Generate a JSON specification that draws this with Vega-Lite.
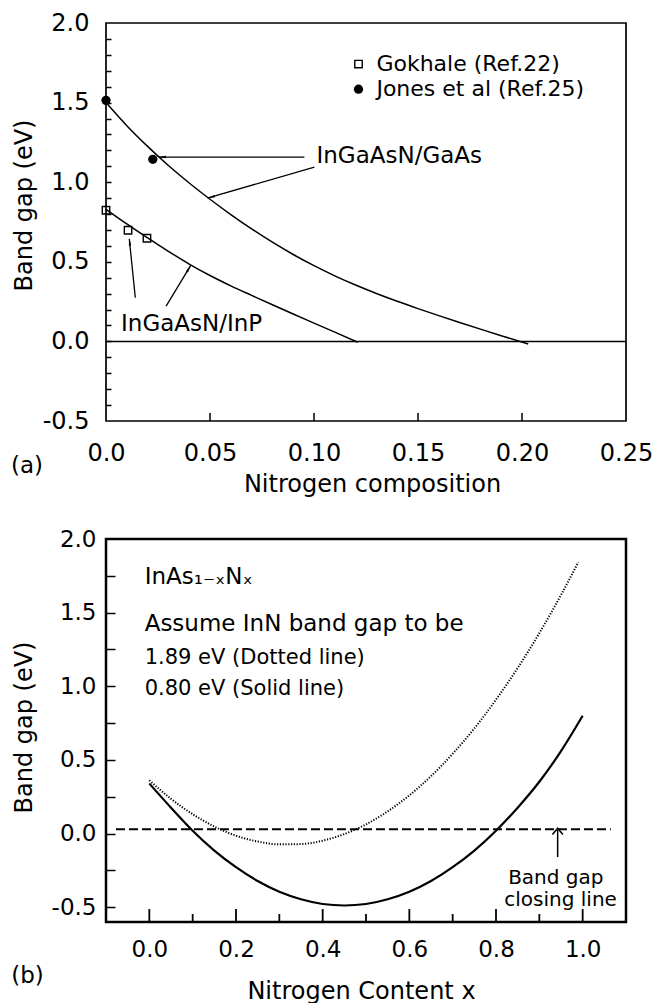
{
  "$schema": "https://vega.github.io/schema/vega-lite/v6.json",
  "background": "white",
  "padding": {"left": 10, "top": 10, "right": 0, "bottom": 0},
  "spacing": 118,
  "bounds": "flush",
  "config": {
    "font": "DejaVu Sans",
    "view": {"stroke": "black", "strokeWidth": 2},
    "axis": {"domain": false, "grid": false, "zindex": 1, "tickColor": "black", "tickWidth": 1.5, "labelColor": "black", "titleColor": "black", "labelFont": "DejaVu Sans", "titleFont": "DejaVu Sans", "titleFontWeight": "normal", "labelFlush": false, "labelOverlap": false}
  },
  "datasets": {
    "gaas": [{"x":0,"y":1.50},{"x":0.01,"y":1.355},{"x":0.02,"y":1.225},{"x":0.03,"y":1.105},{"x":0.04,"y":0.995},{"x":0.05,"y":0.893},{"x":0.06,"y":0.797},{"x":0.07,"y":0.707},{"x":0.08,"y":0.623},{"x":0.09,"y":0.546},{"x":0.10,"y":0.476},{"x":0.11,"y":0.412},{"x":0.12,"y":0.354},{"x":0.13,"y":0.301},{"x":0.14,"y":0.252},{"x":0.15,"y":0.206},{"x":0.16,"y":0.162},{"x":0.17,"y":0.119},{"x":0.18,"y":0.077},{"x":0.19,"y":0.036},{"x":0.203,"y":-0.016}],
    "inp": [{"x":0,"y":0.83},{"x":0.01,"y":0.738},{"x":0.02,"y":0.65},{"x":0.03,"y":0.566},{"x":0.04,"y":0.486},{"x":0.05,"y":0.414},{"x":0.06,"y":0.349},{"x":0.07,"y":0.289},{"x":0.08,"y":0.23},{"x":0.09,"y":0.172},{"x":0.10,"y":0.115},{"x":0.11,"y":0.058},{"x":0.121,"y":-0.005}],
    "gokhale": [{"x":0,"y":0.824},{"x":0.0106,"y":0.698},{"x":0.0197,"y":0.648}],
    "jones": [{"x":0,"y":1.514},{"x":0.0225,"y":1.144}],
    "arrows_a": [{"x":0.0954,"y":1.158,"x2":0.0255,"y2":1.158},{"x":0.1002,"y":1.095,"x2":0.0491,"y2":0.901},{"x":0.0141,"y":0.274,"x2":0.0112,"y2":0.643},{"x":0.0289,"y":0.222,"x2":0.0406,"y2":0.474}],
    "heads_a": [{"x":0.0275,"y":1.158,"angle":270},{"x":0.0510,"y":0.908,"angle":253.7},{"x":0.01142,"y":0.618,"angle":354.2},{"x":0.0396,"y":0.452,"angle":31.3}],
    "labels_a": [{"x":0.1012,"y":1.121,"text":"InGaAsN/GaAs"},{"x":0.00723,"y":0.065,"text":"InGaAsN/InP"}],
    "legend_text_a": [{"x":0.130,"y":1.698,"text":"Gokhale (Ref.22)"},{"x":0.130,"y":1.541,"text":"Jones et al (Ref.25)"}],
    "legend_sq": [{"x":0.1214,"y":1.742}],
    "legend_ci": [{"x":0.1214,"y":1.584}],
    "tag_a": [{"x":-0.038,"y":-0.783,"text":"(a)"}],
    "xticks_a": [{"x":0.05},{"x":0.1},{"x":0.15},{"x":0.2}],
    "solid": [{"x":0,"y":0.34},{"x":0.05,"y":0.176},{"x":0.1,"y":0.02},{"x":0.15,"y":-0.115},{"x":0.2,"y":-0.228},{"x":0.25,"y":-0.322},{"x":0.3,"y":-0.395},{"x":0.35,"y":-0.446},{"x":0.4,"y":-0.478},{"x":0.45,"y":-0.488},{"x":0.5,"y":-0.478},{"x":0.55,"y":-0.446},{"x":0.6,"y":-0.395},{"x":0.65,"y":-0.322},{"x":0.7,"y":-0.228},{"x":0.75,"y":-0.115},{"x":0.8,"y":0.02},{"x":0.85,"y":0.176},{"x":0.9,"y":0.352},{"x":0.95,"y":0.56},{"x":1.0,"y":0.80}],
    "dotted": [{"x":0,"y":0.362},{"x":0.05,"y":0.236},{"x":0.1,"y":0.132},{"x":0.15,"y":0.048},{"x":0.2,"y":-0.014},{"x":0.25,"y":-0.054},{"x":0.3,"y":-0.073},{"x":0.35,"y":-0.071},{"x":0.4,"y":-0.048},{"x":0.45,"y":-0.003},{"x":0.5,"y":0.063},{"x":0.55,"y":0.151},{"x":0.6,"y":0.26},{"x":0.65,"y":0.39},{"x":0.7,"y":0.542},{"x":0.75,"y":0.714},{"x":0.8,"y":0.909},{"x":0.85,"y":1.124},{"x":0.9,"y":1.361},{"x":0.95,"y":1.62},{"x":0.99,"y":1.842}],
    "closing": [{"x":-0.077,"y":0.03},{"x":1.065,"y":0.03}],
    "labels_b_big": [{"x":-0.0108,"y":1.695,"text":"InAs₁₋ₓNₓ"},{"x":-0.0108,"y":1.377,"text":"Assume InN band gap to be"}],
    "labels_b_small": [{"x":-0.0108,"y":1.153,"text":"1.89 eV (Dotted line)"},{"x":-0.0108,"y":0.943,"text":"0.80 eV (Solid  line)"}],
    "closing_text": [{"x":0.938,"y":-0.298,"text":"Band gap"},{"x":0.949,"y":-0.452,"text":"closing line"}],
    "arrow_b": [{"x":0.9423,"y":-0.159,"x2":0.9423,"y2":0.025}],
    "head_b": [{"x":0.9423,"y":0.015}],
    "tag_b": [{"x":-0.281,"y":-0.967,"text":"(b)"}],
    "xticks_b_major": [{"x":0},{"x":0.2},{"x":0.4},{"x":0.6},{"x":0.8},{"x":1.0}],
    "xticks_b_minor": [{"x":0.1},{"x":0.3},{"x":0.5},{"x":0.7},{"x":0.9}]
  },
  "vconcat": [
    {
      "width": 520,
      "height": 398,
      "view": {"stroke": "black", "strokeWidth": 1.7},
      "resolve": {"axis": {"x": "independent", "y": "independent"}},
      "layer": [
        {
          "data": {"name": "gaas"},
          "mark": {"type": "line", "color": "black", "strokeWidth": 1.5, "interpolate": "monotone"},
          "encoding": {
            "x": {"field": "x", "type": "quantitative", "scale": {"domain": [0, 0.25], "nice": false, "zero": false},
              "axis": {"orient": "bottom", "title": "Nitrogen composition", "values": [0, 0.05, 0.1, 0.15, 0.2, 0.25], "labelExpr": "datum.value == 0 ? '0.0' : format(datum.value, '.2f')", "ticks": false, "tickSize": 0, "labelPadding": 20, "labelOverlap": false, "labelFontSize": 24, "titleFontSize": 24, "titleX": 266, "titleY": 70, "titleBaseline": "alphabetic", "titleAlign": "center"}},
            "y": {"field": "y", "type": "quantitative", "scale": {"domain": [-0.5, 2.0], "nice": false, "zero": false},
              "axis": {"orient": "left", "title": "Band gap (eV)", "values": [-0.5, 0, 0.5, 1.0, 1.5, 2.0], "labelExpr": "(datum.value < 0 ? '-' : '') + format(abs(datum.value), '.1f')", "ticks": false, "tickSize": 0, "labelPadding": 17, "labelOverlap": false, "labelFontSize": 24, "titleFontSize": 24, "titleX": -82, "titleY": 182, "titleBaseline": "middle", "titleAlign": "center"}}
          }
        },
        {
          "data": {"name": "inp"},
          "mark": {"type": "line", "color": "black", "strokeWidth": 1.5, "interpolate": "monotone"},
          "encoding": {
            "x": {"field": "x", "type": "quantitative", "axis": null},
            "y": {"field": "y", "type": "quantitative", "axis": {"orient": "right", "offset": -520, "title": null, "values": [-0.4,-0.3,-0.2,-0.1,0,0.1,0.2,0.3,0.4,0.5,0.6,0.7,0.8,0.9,1.0,1.1,1.2,1.3,1.4,1.5,1.6,1.7,1.8,1.9], "labels": false, "ticks": true, "tickSize": 5}}
          }
        },
        {
          "data": {"name": "xticks_a"},
          "mark": {"type": "rule", "color": "black", "strokeWidth": 1.5},
          "encoding": {"x": {"field": "x", "type": "quantitative", "axis": null}, "y": {"datum": -0.5, "type": "quantitative", "axis": null}, "y2": {"datum": -0.45}}
        },
        {
          "data": {"values": [{"v": 0}]},
          "mark": {"type": "rule", "color": "black", "strokeWidth": 1.5},
          "encoding": {"y": {"field": "v", "type": "quantitative", "axis": null}}
        },
        {
          "data": {"name": "gokhale"},
          "mark": {"type": "point", "shape": "square", "filled": false, "stroke": "black", "strokeWidth": 1.4, "size": 55, "opacity": 1},
          "encoding": {"x": {"field": "x", "type": "quantitative", "axis": null}, "y": {"field": "y", "type": "quantitative", "axis": null}}
        },
        {
          "data": {"name": "legend_sq"},
          "mark": {"type": "point", "shape": "square", "filled": false, "stroke": "black", "strokeWidth": 1.4, "size": 55, "opacity": 1},
          "encoding": {"x": {"field": "x", "type": "quantitative", "axis": null}, "y": {"field": "y", "type": "quantitative", "axis": null}}
        },
        {
          "data": {"name": "jones"},
          "mark": {"type": "point", "shape": "circle", "filled": true, "color": "black", "size": 85, "opacity": 1},
          "encoding": {"x": {"field": "x", "type": "quantitative", "axis": null}, "y": {"field": "y", "type": "quantitative", "axis": null}}
        },
        {
          "data": {"name": "legend_ci"},
          "mark": {"type": "point", "shape": "circle", "filled": true, "color": "black", "size": 85, "opacity": 1},
          "encoding": {"x": {"field": "x", "type": "quantitative", "axis": null}, "y": {"field": "y", "type": "quantitative", "axis": null}}
        },
        {
          "data": {"name": "arrows_a"},
          "mark": {"type": "rule", "color": "black", "strokeWidth": 1.3},
          "encoding": {"x": {"field": "x", "type": "quantitative", "axis": null}, "y": {"field": "y", "type": "quantitative", "axis": null}, "x2": {"field": "x2"}, "y2": {"field": "y2"}}
        },
        {
          "data": {"name": "heads_a"},
          "mark": {"type": "point", "shape": "wedge", "filled": true, "color": "black", "size": 90, "opacity": 1},
          "encoding": {"x": {"field": "x", "type": "quantitative", "axis": null}, "y": {"field": "y", "type": "quantitative", "axis": null}, "angle": {"field": "angle", "type": "quantitative", "scale": null}}
        },
        {
          "data": {"name": "labels_a"},
          "mark": {"type": "text", "align": "left", "baseline": "alphabetic", "fontSize": 23, "font": "DejaVu Sans", "color": "black"},
          "encoding": {"x": {"field": "x", "type": "quantitative", "axis": null}, "y": {"field": "y", "type": "quantitative", "axis": null}, "text": {"field": "text"}}
        },
        {
          "data": {"name": "legend_text_a"},
          "mark": {"type": "text", "align": "left", "baseline": "alphabetic", "fontSize": 22, "font": "DejaVu Sans", "color": "black"},
          "encoding": {"x": {"field": "x", "type": "quantitative", "axis": null}, "y": {"field": "y", "type": "quantitative", "axis": null}, "text": {"field": "text"}}
        },
        {
          "data": {"name": "tag_a"},
          "mark": {"type": "text", "align": "center", "baseline": "middle", "fontSize": 23, "font": "DejaVu Sans", "color": "black"},
          "encoding": {"x": {"field": "x", "type": "quantitative", "axis": null}, "y": {"field": "y", "type": "quantitative", "axis": null}, "text": {"field": "text"}}
        }
      ]
    },
    {
      "width": 520,
      "height": 383,
      "view": {"stroke": "black", "strokeWidth": 2.5},
      "resolve": {"axis": {"x": "independent", "y": "independent"}},
      "layer": [
        {
          "data": {"name": "solid"},
          "mark": {"type": "line", "color": "black", "strokeWidth": 2.2, "interpolate": "monotone"},
          "encoding": {
            "x": {"field": "x", "type": "quantitative", "scale": {"domain": [-0.1, 1.1], "nice": false, "zero": false},
              "axis": {"orient": "bottom", "title": "Nitrogen Content x", "values": [0, 0.2, 0.4, 0.6, 0.8, 1.0], "format": ".1f", "ticks": false, "tickSize": 0, "labelPadding": 16, "labelOverlap": false, "labelFontSize": 23, "titleFontSize": 24, "titleX": 255, "titleY": 76, "titleBaseline": "alphabetic", "titleAlign": "center"}},
            "y": {"field": "y", "type": "quantitative", "scale": {"domain": [-0.6, 2.0], "nice": false, "zero": false},
              "axis": {"orient": "left", "title": "Band gap (eV)", "values": [-0.5, 0, 0.5, 1.0, 1.5, 2.0], "labelExpr": "(datum.value < 0 ? '-' : '') + format(abs(datum.value), '.1f')", "ticks": false, "tickSize": 0, "labelPadding": 10, "labelOverlap": false, "labelFontSize": 23, "titleFontSize": 24, "titleX": -82, "titleY": 188, "titleBaseline": "middle", "titleAlign": "center"}}
          }
        },
        {
          "data": {"name": "dotted"},
          "mark": {"type": "line", "color": "black", "strokeWidth": 2, "strokeDash": [1.2, 1.6], "interpolate": "monotone"},
          "encoding": {
            "x": {"field": "x", "type": "quantitative", "axis": null},
            "y": {"field": "y", "type": "quantitative", "axis": {"orient": "right", "offset": -520, "title": null, "values": [-0.5,-0.25,0,0.25,0.5,0.75,1.0,1.25,1.5,1.75], "labels": false, "ticks": true, "tickSize": 9}}
          }
        },
        {
          "data": {"name": "xticks_b_major"},
          "mark": {"type": "rule", "color": "black", "strokeWidth": 1.8},
          "encoding": {"x": {"field": "x", "type": "quantitative", "axis": null}, "y": {"datum": -0.6, "type": "quantitative", "axis": null}, "y2": {"datum": -0.512}}
        },
        {
          "data": {"name": "xticks_b_minor"},
          "mark": {"type": "rule", "color": "black", "strokeWidth": 1.8},
          "encoding": {"x": {"field": "x", "type": "quantitative", "axis": null}, "y": {"datum": -0.6, "type": "quantitative", "axis": null}, "y2": {"datum": -0.546}}
        },
        {
          "data": {"name": "closing"},
          "mark": {"type": "line", "color": "black", "strokeWidth": 2, "strokeDash": [9, 4]},
          "encoding": {"x": {"field": "x", "type": "quantitative", "axis": null}, "y": {"field": "y", "type": "quantitative", "axis": null}}
        },
        {
          "data": {"name": "arrow_b"},
          "mark": {"type": "rule", "color": "black", "strokeWidth": 1.5},
          "encoding": {"x": {"field": "x", "type": "quantitative", "axis": null}, "y": {"field": "y", "type": "quantitative", "axis": null}, "x2": {"field": "x2"}, "y2": {"field": "y2"}}
        },
        {
          "data": {"name": "head_b"},
          "mark": {"type": "point", "shape": "M-1,0.6L0,-0.6L1,0.6", "filled": false, "stroke": "black", "strokeWidth": 1.5, "size": 110, "opacity": 1},
          "encoding": {"x": {"field": "x", "type": "quantitative", "axis": null}, "y": {"field": "y", "type": "quantitative", "axis": null}}
        },
        {
          "data": {"name": "labels_b_big"},
          "mark": {"type": "text", "align": "left", "baseline": "alphabetic", "fontSize": 23, "font": "DejaVu Sans", "color": "black"},
          "encoding": {"x": {"field": "x", "type": "quantitative", "axis": null}, "y": {"field": "y", "type": "quantitative", "axis": null}, "text": {"field": "text"}}
        },
        {
          "data": {"name": "labels_b_small"},
          "mark": {"type": "text", "align": "left", "baseline": "alphabetic", "fontSize": 21, "font": "DejaVu Sans", "color": "black"},
          "encoding": {"x": {"field": "x", "type": "quantitative", "axis": null}, "y": {"field": "y", "type": "quantitative", "axis": null}, "text": {"field": "text"}}
        },
        {
          "data": {"name": "closing_text"},
          "mark": {"type": "text", "align": "center", "baseline": "middle", "fontSize": 20, "font": "DejaVu Sans", "color": "black"},
          "encoding": {"x": {"field": "x", "type": "quantitative", "axis": null}, "y": {"field": "y", "type": "quantitative", "axis": null}, "text": {"field": "text"}}
        },
        {
          "data": {"name": "tag_b"},
          "mark": {"type": "text", "align": "center", "baseline": "middle", "fontSize": 23, "font": "DejaVu Sans", "color": "black"},
          "encoding": {"x": {"field": "x", "type": "quantitative", "axis": null}, "y": {"field": "y", "type": "quantitative", "axis": null}, "text": {"field": "text"}}
        }
      ]
    }
  ]
}
